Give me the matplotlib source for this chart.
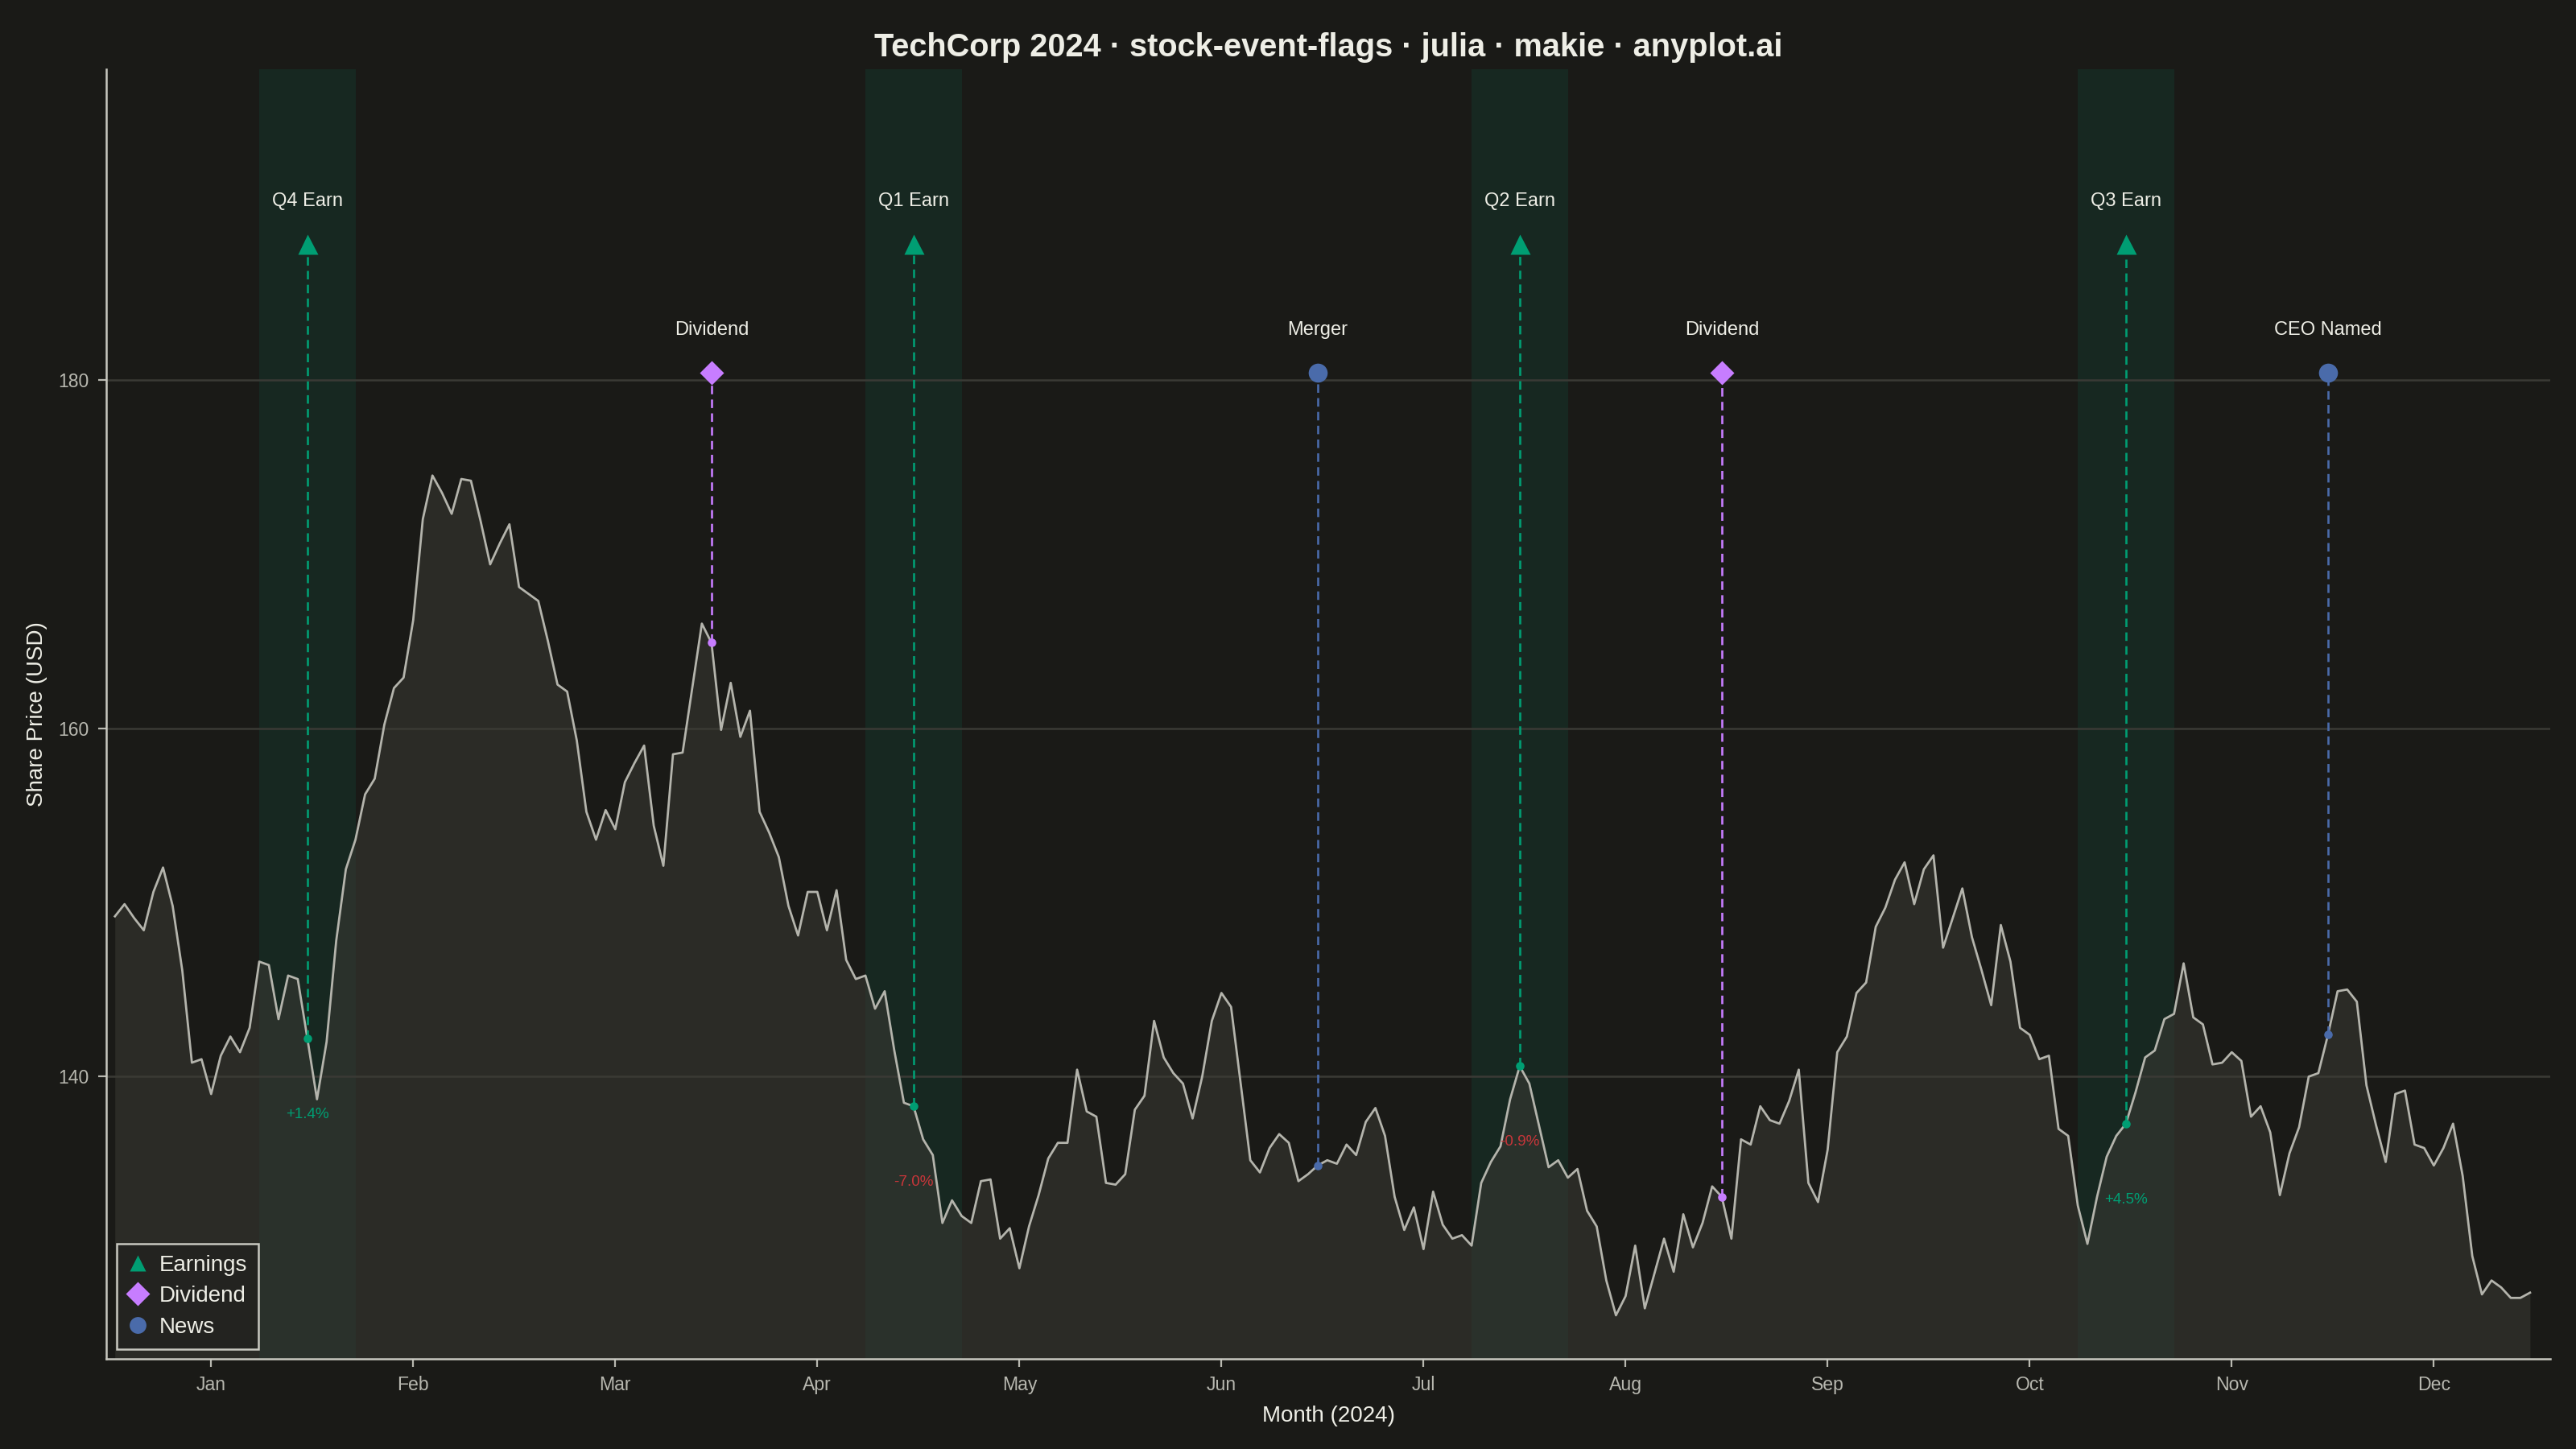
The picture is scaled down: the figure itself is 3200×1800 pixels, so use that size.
import numpy as np
import matplotlib.pyplot as plt
from matplotlib.lines import Line2D

plt.rcParams['font.family'] = ['Liberation Sans', 'DejaVu Sans']

# trading day index 0..251, closing price
prices = [
    149.2, 149.9, 149.1, 148.4, 150.6, 152.0, 149.8, 146.1, 140.8, 141.0,
    139.0, 141.2, 142.3, 141.4, 142.8, 146.6, 146.4, 143.3, 145.8, 145.6,
    142.2, 138.7, 142.0, 147.8, 151.9, 153.6, 156.2, 157.1, 160.2, 162.3,
    162.9, 166.2, 172.0, 174.5, 173.5, 172.3, 174.3, 174.2, 171.9, 169.4,
    170.6, 171.7, 168.1, 167.7, 167.3, 165.0, 162.5, 162.1, 159.3, 155.2,
    153.6, 155.3, 154.2, 156.9, 158.0, 159.0, 154.4, 152.1, 158.5, 158.6,
    162.3, 166.0, 164.9, 159.9, 162.6, 159.5, 161.0, 155.2, 154.0, 152.6,
    149.8, 148.1, 150.6, 150.6, 148.4, 150.7, 146.7, 145.6, 145.8, 143.9,
    144.9, 141.5, 138.5, 138.3, 136.4, 135.5, 131.6, 132.9, 132.0, 131.6,
    134.0, 134.1, 130.7, 131.3, 129.0, 131.4, 133.2, 135.3, 136.2, 136.2,
    140.4, 138.0, 137.7, 133.9, 133.8, 134.4, 138.1, 138.9, 143.2, 141.1,
    140.2, 139.6, 137.6, 140.0, 143.2, 144.8, 144.0, 139.6, 135.2, 134.5,
    135.9, 136.7, 136.2, 134.0, 134.4, 134.9, 135.2, 135.0, 136.1, 135.5,
    137.4, 138.2, 136.6, 133.1, 131.2, 132.5, 130.1, 133.4, 131.5, 130.7,
    130.9, 130.3, 133.9, 135.1, 136.0, 138.7, 140.6, 139.6, 137.2, 134.8,
    135.2, 134.2, 134.7, 132.3, 131.4, 128.3, 126.3, 127.4, 130.3, 126.7,
    128.7, 130.7, 128.8, 132.1, 130.2, 131.6, 133.7, 133.1, 130.7, 136.4,
    136.1, 138.3, 137.5, 137.3, 138.6, 140.4, 133.9, 132.8, 135.8, 141.4,
    142.3, 144.8, 145.4, 148.6, 149.7, 151.3, 152.3, 149.9, 151.9, 152.7,
    147.4, 149.1, 150.8, 148.0, 146.1, 144.1, 148.7, 146.6, 142.8, 142.4,
    141.0, 141.2, 137.0, 136.6, 132.6, 130.4, 133.1, 135.4, 136.6, 137.3,
    139.1, 141.1, 141.5, 143.3, 143.6, 146.5, 143.4, 143.0, 140.7, 140.8,
    141.4, 140.9, 137.7, 138.3, 136.8, 133.2, 135.6, 137.1, 140.0, 140.2,
    142.4, 144.9, 145.0, 144.3, 139.5, 137.2, 135.1, 139.0, 139.2, 136.1,
    135.9, 134.9, 135.9, 137.3, 134.3, 129.7, 127.5, 128.3, 127.9, 127.3,
    127.3, 127.6,
]
days = np.arange(len(prices))

month_labels = ['Jan', 'Feb', 'Mar', 'Apr', 'May', 'Jun',
                'Jul', 'Aug', 'Sep', 'Oct', 'Nov', 'Dec']
month_days = [10, 31, 52, 73, 94, 115, 136, 157, 178, 199, 220, 241]

event_days = [20, 62, 83, 125, 146, 167, 209, 230]
event_labels = ['Q4 Earn', 'Dividend', 'Q1 Earn', 'Merger',
                'Q2 Earn', 'Dividend', 'Q3 Earn', 'CEO Named']
event_types = ['Earnings', 'Dividend', 'Earnings', 'News',
               'Earnings', 'Dividend', 'Earnings', 'News']
earnings_moves = ['+1.4%', '-7.0%', '-0.9%', '+4.5%']

# styling
bg = '#1A1A17'
line_c = '#B4B4AC'
text_c = '#EEEEE6'
tick_c = '#B8B8B0'
grid_c = '#3A3A35'
up_c = '#009E73'
down_c = '#C8363A'
type_color = {'Earnings': '#009E73', 'Dividend': '#C77DFF', 'News': '#4A6BAA'}
type_marker = {'Earnings': '^', 'Dividend': 'D', 'News': 'o'}
type_size = {'Earnings': 9, 'Dividend': 7.5, 'News': 8.5}
flag_y = {'Earnings': 187.8, 'Dividend': 180.4, 'News': 180.4}

fig = plt.figure(figsize=(16, 9), dpi=200, facecolor=bg)
ax = fig.add_axes([0.04125, 0.0622, 0.94875, 0.8898])
ax.set_facecolor(bg)

ymin, ymax = 123.8, 197.8
ax.set_xlim(-0.9, 253.1)
ax.set_ylim(ymin, ymax)

# earnings windows
for d, t in zip(event_days, event_types):
    if t == 'Earnings':
        ax.axvspan(d - 5, d + 5, color=up_c, alpha=0.11, lw=0, zorder=0.5)

ax.fill_between(days, prices, ymin, color='#3A3A34', alpha=0.55, lw=0, zorder=1)
ax.plot(days, prices, color=line_c, lw=1.0, zorder=3)

k = 0
for d, lab, t in zip(event_days, event_labels, event_types):
    c = type_color[t]
    p = prices[d]
    fy = flag_y[t]
    ax.plot([d, d], [p, fy], color=c, lw=0.95, ls=(0, (4, 2.5)), zorder=4)
    ax.plot(d, p, 'o', color=c, ms=3.8, mec='none', zorder=5)
    ax.plot(d, fy, type_marker[t], color=c, ms=type_size[t], mec='none', zorder=6)
    ax.annotate(lab, (d, fy), xytext=(0, 19), textcoords='offset points',
                ha='center', va='center', fontsize=8.5, color=text_c, zorder=7)
    if t == 'Earnings':
        mv = earnings_moves[k]
        k += 1
        ax.annotate(mv, (d, p), xytext=(0, -34), textcoords='offset points',
                    ha='center', va='center', fontsize=6.8,
                    color=up_c if mv.startswith('+') else down_c, zorder=7)

ax.set_yticks([140, 160, 180])
ax.set_xticks(month_days)
ax.set_xticklabels(month_labels)
ax.grid(axis='y', color=grid_c, lw=0.9)
ax.set_axisbelow(True)
ax.tick_params(colors=tick_c, labelsize=8.3, length=3.6, width=0.8, pad=4)
for s in ['top', 'right']:
    ax.spines[s].set_visible(False)
for s in ['left', 'bottom']:
    ax.spines[s].set_color('#C8C8C0')
    ax.spines[s].set_linewidth(0.9)

ax.set_xlabel('Month (2024)', fontsize=10, color=text_c, labelpad=5)
ax.set_ylabel('Share Price (USD)', fontsize=10, color=text_c, labelpad=5)
ax.set_title('TechCorp 2024 · stock-event-flags · julia · makie · anyplot.ai',
             fontsize=14.3, fontweight='bold', color=text_c, pad=6)

handles = [Line2D([], [], ls='none', marker=type_marker[t], color=type_color[t],
                  mec='none', ms=7.5, label=t)
           for t in ['Earnings', 'Dividend', 'News']]
leg = ax.legend(handles=handles, loc='lower left', fontsize=10, frameon=True,
                fancybox=False, borderaxespad=0.45, handletextpad=0.5,
                labelspacing=0.45, handlelength=0.9, borderpad=0.5)
leg.get_frame().set_facecolor('#232320')
leg.get_frame().set_edgecolor('#C8C8C0')
leg.get_frame().set_linewidth(0.9)
leg.get_frame().set_alpha(1)
for txt in leg.get_texts():
    txt.set_color(text_c)

fig.savefig('out.png', dpi=200, facecolor=bg)
